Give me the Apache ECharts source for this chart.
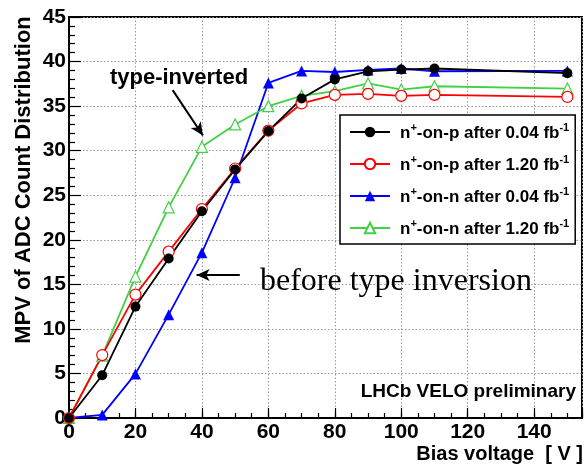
<!DOCTYPE html>
<html><head><meta charset="utf-8">
<script src="https://cdn.jsdelivr.net/npm/echarts@6/dist/echarts.min.js"></script>
<style>html,body{margin:0;padding:0;background:#fff}#c{width:587px;height:466px}</style>
</head><body><div id="c"></div>
<script>
const voltages = [0, 10, 20, 30, 40, 50, 60, 70, 80, 90, 100, 110, 150];
const npAfter004 = [0, 4.8, 12.5, 17.9, 23.2, 27.9, 32.2, 35.85, 38.0, 38.9, 39.1, 39.22, 38.7];
const npAfter120 = [0, 7.06, 13.85, 18.67, 23.45, 28.0, 32.25, 35.3, 36.26, 36.37, 36.15, 36.26, 36.03];
const nnAfter004 = [0, 0.35, 4.95, 11.6, 18.55, 26.96, 37.6, 38.95, 38.83, 39.06, 39.22, 38.91, 38.95];
const nnAfter120 = [0, 7.0, 15.87, 23.64, 30.43, 32.94, 34.99, 36.15, 36.67, 37.54, 36.86, 37.23, 36.97];
const xTicks = [0, 20, 40, 60, 80, 100, 120, 140];
const yTicks = [0, 5, 10, 15, 20, 25, 30, 35, 40, 45];
const seriesNames = ['np004', 'np120', 'nn004', 'nn120'];
const legendLabels = {
  np004: ['n', '+', '-on-p after 0.04 fb', '-1'],
  np120: ['n', '+', '-on-p after 1.20 fb', '-1'],
  nn004: ['n', '+', '-on-n after 0.04 fb', '-1'],
  nn120: ['n', '+', '-on-n after 1.20 fb', '-1']
};
const arrowTypeInverted = [[31.2, 36.8], [40.3, 31.7]];
const arrowBefore = [[51.4, 16.06], [38.4, 16.06]];

const FONT = 'Liberation Sans, Arial, sans-serif';
const chart = echarts.init(document.getElementById('c'), null, {renderer: 'canvas'});
const toPairs = arr => voltages.map((v, i) => [v, arr[i]]);

function mk(name, data, color, symbol, filled, size) {
  return {
    name: name, type: 'line', data: toPairs(data), symbol: symbol, symbolSize: size,
    showAllSymbol: true,
    lineStyle: {color: color, width: 1.8},
    itemStyle: {color: filled ? color : '#fff', borderColor: color, borderWidth: filled ? 0 : 1.2},
    emphasis: {disabled: true}, animation: false, z: 3
  };
}
const XMAX = 154.4;
const series = [
  mk('nn004', nnAfter004, '#0000ff', 'triangle', true, 11),
  mk('nn120', nnAfter120, '#44d044', 'triangle', false, 11),
  mk('np120', npAfter120, '#ff0000', 'circle', false, 11),
  mk('np004', npAfter004, '#000000', 'circle', true, 10)
];
series[3].markLine = {
  silent: true, symbol: ['none', 'arrow'], symbolSize: [9, 13], animation: false,
  label: {show: false},
  lineStyle: {color: '#000', width: 2, type: 'solid'},
  data: [
    [{coord: arrowTypeInverted[0]}, {coord: arrowTypeInverted[1]}],
    [{coord: arrowBefore[0]}, {coord: arrowBefore[1]}]
  ]
};

chart.setOption({
  animation: false,
  backgroundColor: '#fff',
  grid: {left: 69, top: 17, right: 5, bottom: 48, show: true, borderColor: '#000', borderWidth: 2, backgroundColor: 'transparent'},
  xAxis: [{
    type: 'value', min: 0, max: XMAX, interval: 20, position: 'bottom',
    axisLine: {show: true, onZero: false, lineStyle: {color: '#000', width: 2}},
    axisTick: {show: true, inside: true, length: 10, lineStyle: {color: '#000', width: 1.2}},
    axisLabel: {margin: 4, color: '#000', fontFamily: FONT, fontWeight: 'bold', fontSize: 21,
      formatter: v => xTicks.indexOf(v) >= 0 ? String(v) : ''},
    splitLine: {show: true, lineStyle: {color: '#999', width: 1, type: [1.5, 2]}}
  }, {
    type: 'value', min: 0, max: XMAX, interval: 5, position: 'bottom',
    axisLine: {show: false}, axisLabel: {show: false}, splitLine: {show: false},
    axisTick: {show: true, inside: true, length: 5, lineStyle: {color: '#000', width: 1.2}}
  }],
  yAxis: {
    type: 'value', min: 0, max: 45, interval: 5,
    axisLine: {show: true, onZero: false, lineStyle: {color: '#000', width: 2}},
    axisTick: {show: true, inside: true, length: 12, lineStyle: {color: '#000', width: 1.2}},
    minorTick: {show: true, splitNumber: 5, length: 6, lineStyle: {color: '#000', width: 1.2}},
    axisLabel: {margin: 3, color: '#000', fontFamily: FONT, fontWeight: 'bold', fontSize: 21,
      formatter: v => yTicks.indexOf(v) >= 0 ? String(v) : ''},
    splitLine: {show: true, lineStyle: {color: '#999', width: 1, type: [1.5, 2]}}
  },
  legend: {
    data: seriesNames, orient: 'vertical', left: 340, top: 115,
    backgroundColor: '#fff', borderColor: '#000', borderWidth: 1.5, borderRadius: 0,
    padding: [7, 6, 6, 9], itemWidth: 40, itemHeight: 13, itemGap: 12,
    selectedMode: false,
    textStyle: {color: '#000', fontFamily: FONT, fontWeight: 'bold', fontSize: 17,
      rich: {
        a: {fontFamily: FONT, fontWeight: 'bold', fontSize: 17, lineHeight: 20, color: '#000', verticalAlign: 'bottom'},
        b: {fontFamily: FONT, fontWeight: 'bold', fontSize: 17, lineHeight: 20, color: '#000', padding: [0, 0, 0, 5], verticalAlign: 'bottom'},
        s: {fontFamily: FONT, fontWeight: 'bold', fontSize: 11, lineHeight: 11, color: '#000', verticalAlign: 'top'}
      }},
    formatter: name => {
      const p = legendLabels[name];
      return '{b|' + p[0] + '}{s|' + p[1] + '}{a|' + p[2] + '}{s|' + p[3] + '}';
    }
  },
  series: series,
  graphic: [
    {type: 'text', x: 179, y: 78, z: 10, style: {text: 'type-inverted', align: 'center', verticalAlign: 'middle', font: 'bold 22px ' + FONT, fill: '#000'}},
    {type: 'text', x: 260, y: 282, z: 10, style: {text: 'before type inversion', align: 'left', verticalAlign: 'middle', font: '32px Liberation Serif, Times New Roman, serif', fill: '#000'}},
    {type: 'text', x: 576, y: 392, z: 10, style: {text: 'LHCb VELO preliminary', align: 'right', verticalAlign: 'middle', font: 'bold 19px ' + FONT, fill: '#000'}},
    {type: 'text', x: 583, y: 454, z: 10, style: {text: 'Bias voltage  [ V ]', align: 'right', verticalAlign: 'middle', font: 'bold 20px ' + FONT, fill: '#000'}},
    {type: 'text', x: 24, y: 180, rotation: Math.PI / 2, z: 10, style: {text: 'MPV of ADC Count Distribution', align: 'center', verticalAlign: 'middle', font: 'bold 22px ' + FONT, fill: '#000'}}
  ]
});
</script></body></html>
